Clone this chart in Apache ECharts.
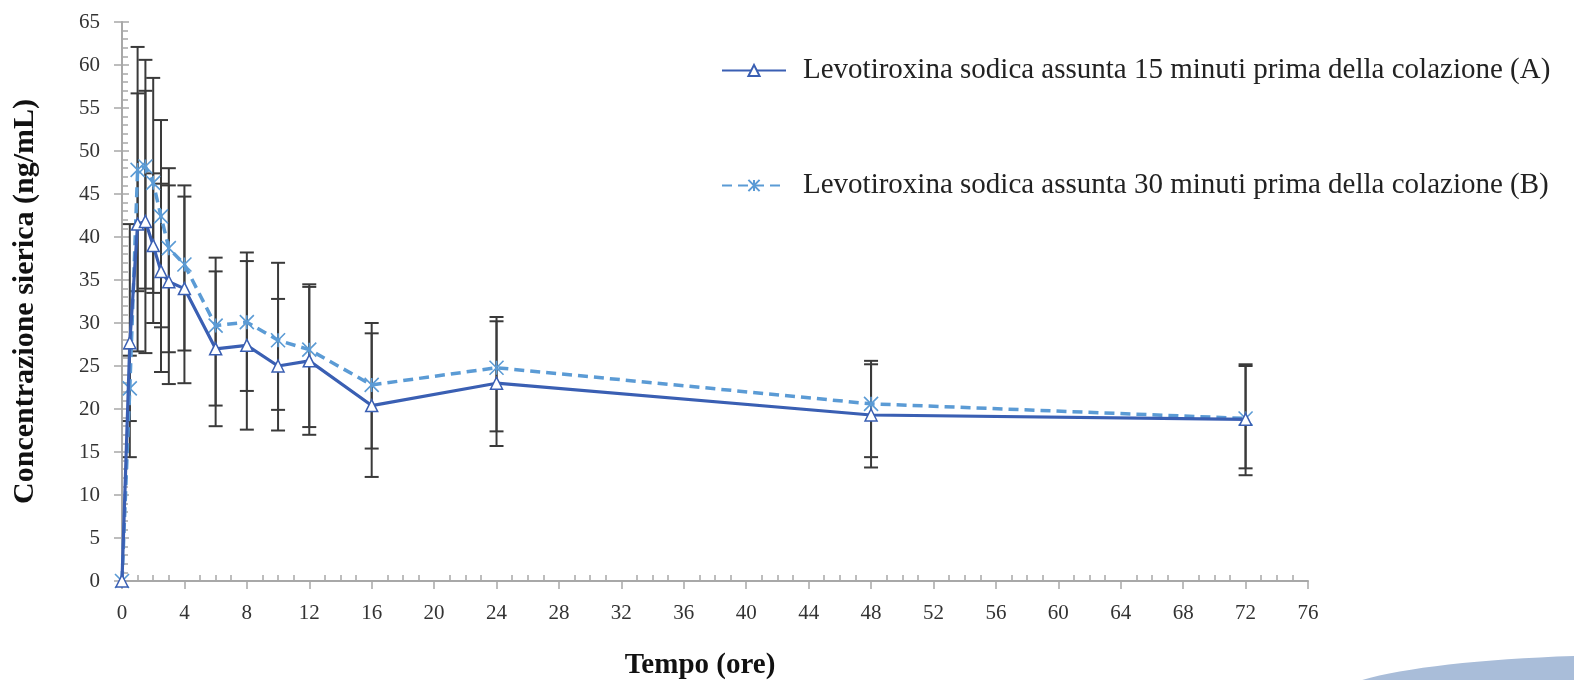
<!DOCTYPE html>
<html>
<head>
<meta charset="utf-8">
<script src="https://cdn.jsdelivr.net/npm/echarts@6/dist/echarts.min.js"></script>
<style>html,body{margin:0;padding:0;background:#fff;}#c{width:1574px;height:680px;}</style>
</head>
<body>
<div id="c"></div>
<script>
const times = [0, 0.5, 1, 1.5, 2, 2.5, 3, 4, 6, 8, 10, 12, 16, 24, 48, 72];
const seriesA = [0, 27.7, 41.5, 41.8, 39.0, 36.0, 34.8, 34.0, 27.0, 27.4, 25.0, 25.6, 20.4, 23.0, 19.3, 18.8];
const seriesB = [0, 22.4, 47.8, 48.2, 46.3, 42.4, 38.7, 36.8, 29.7, 30.1, 28.0, 26.9, 22.8, 24.8, 20.6, 18.9];
const lowA  = [null, 14.4, 26.7, 26.5, 30.0, 24.3, 22.9, 23.0, 18.0, 17.6, 17.5, 17.0, 12.1, 15.7, 13.2, 12.3];
const highA = [null, 41.5, 56.7, 57.0, 47.4, 46.2, 46.0, 44.7, 36.0, 37.2, 32.8, 34.2, 28.8, 30.2, 25.2, 25.2];
const lowB  = [null, 18.6, 33.7, 34.0, 33.5, 29.5, 26.6, 26.8, 20.4, 22.1, 19.9, 17.9, 15.4, 17.4, 14.4, 13.1];
const highB = [null, 26.2, 62.1, 60.6, 58.5, 53.6, 48.0, 46.0, 37.6, 38.2, 37.0, 34.5, 30.0, 30.7, 25.6, 25.0];
const nameA = 'Levotiroxina sodica assunta 15 minuti prima della colazione (A)';
const nameB = 'Levotiroxina sodica assunta 30 minuti prima della colazione (B)';
const xTitle = 'Tempo (ore)';
const yTitle = 'Concentrazione sierica (ng/mL)';

const serif = '"Liberation Serif", "DejaVu Serif", serif';
const axisGray = '#a8a8a8';

function errData(lo, hi) {
  const out = [];
  times.forEach((t, i) => { if (lo[i] != null) out.push([t, lo[i], hi[i]]); });
  return out;
}
function renderErr(params, api) {
  const x = api.value(0), lo = api.value(1), hi = api.value(2);
  const p1 = api.coord([x, lo]), p2 = api.coord([x, hi]);
  const w = 7;
  const st = { stroke: '#3a3a3a', lineWidth: 2 };
  return { type: 'group', children: [
    { type: 'line', shape: { x1: p1[0], y1: p1[1], x2: p2[0], y2: p2[1] }, style: st },
    { type: 'line', shape: { x1: p1[0] - w, y1: p1[1], x2: p1[0] + w, y2: p1[1] }, style: st },
    { type: 'line', shape: { x1: p2[0] - w, y1: p2[1], x2: p2[0] + w, y2: p2[1] }, style: st }
  ]};
}

const chart = echarts.init(document.getElementById('c'), null, { renderer: 'canvas' });
const xBase = { type: 'value', min: 0, max: 76, interval: 4, gridIndex: 0, position: 'bottom' };
const yBase = { type: 'value', min: 0, max: 65, interval: 5, gridIndex: 0, position: 'left' };
chart.setOption({
  animation: false,
  backgroundColor: '#ffffff',
  grid: { left: 122, right: 266, top: 22, bottom: 99, containLabel: false, outerBoundsMode: 'none' },
  legend: {
    data: [nameA, nameB],
    orient: 'vertical',
    left: 716, top: 51,
    itemGap: 86,
    itemWidth: 64, itemHeight: 14,
    textStyle: { fontFamily: serif, fontSize: 29, color: '#222', padding: [0, 0, 0, 12] }
  },
  xAxis: [
    Object.assign({}, xBase, {
      name: xTitle, nameLocation: 'middle', nameGap: 70,
      nameTextStyle: { fontFamily: serif, fontSize: 29, fontWeight: 'bold', color: '#111', padding: [0, 30, 0, 0] },
      axisLine: { show: true, lineStyle: { color: axisGray, width: 2 } },
      axisTick: { show: true, inside: false, length: 8, lineStyle: { color: axisGray, width: 1.5 } },
      axisLabel: { margin: 22, fontFamily: serif, fontSize: 21, color: '#333' },
      splitLine: { show: false }
    }),
    Object.assign({}, xBase, {
      axisLine: { show: false }, axisLabel: { show: false }, splitLine: { show: false },
      axisTick: { show: false, inside: true },
      minorTick: { show: true, splitNumber: 4, length: 6, lineStyle: { color: axisGray, width: 1.5 } }
    })
  ],
  yAxis: [
    Object.assign({}, yBase, {
      name: yTitle, nameLocation: 'middle', nameGap: 82, nameRotate: 90,
      nameTextStyle: { fontFamily: serif, fontSize: 30, fontWeight: 'bold', color: '#111' },
      axisLine: { show: true, lineStyle: { color: axisGray, width: 2 } },
      axisTick: { show: true, inside: false, length: 8, lineStyle: { color: axisGray, width: 1.5 } },
      axisLabel: { margin: 22, fontFamily: serif, fontSize: 21, color: '#333' },
      splitLine: { show: false }
    }),
    Object.assign({}, yBase, {
      axisLine: { show: false }, axisLabel: { show: false }, splitLine: { show: false },
      axisTick: { show: true, inside: true, length: 7, lineStyle: { color: axisGray, width: 1.5 } },
      minorTick: { show: true, splitNumber: 5, length: 6, lineStyle: { color: axisGray, width: 1.5 } }
    })
  ],
  series: [
    {
      type: 'custom', name: 'errA', renderItem: renderErr, data: errData(lowA, highA),
      encode: { x: 0, y: [1, 2] }, z: 1, silent: true
    },
    {
      type: 'custom', name: 'errB', renderItem: renderErr, data: errData(lowB, highB),
      encode: { x: 0, y: [1, 2] }, z: 1, silent: true
    },
    {
      type: 'line', name: nameA, data: times.map((t, i) => [t, seriesA[i]]),
      z: 3,
      lineStyle: { color: '#3a5fb3', width: 3.2, type: 'solid' },
      symbol: 'triangle', symbolSize: 12, showAllSymbol: true,
      itemStyle: { color: '#ffffff', borderColor: '#3a5fb3', borderWidth: 1.5 }
    },
    {
      type: 'line', name: nameB, data: times.map((t, i) => [t, seriesB[i]]),
      z: 2,
      lineStyle: { color: '#5b9bd5', width: 3.5, type: [10, 6] },
      symbol: 'path://M0 0L10 10M10 0L0 10M5 0L5 10', symbolSize: 14, showAllSymbol: true,
      itemStyle: { color: 'transparent', borderColor: '#5b9bd5', borderWidth: 1.6 }
    }
  ],
  graphic: [
    { type: 'ellipse', shape: { cx: 1640, cy: 700, rx: 310, ry: 45 }, style: { fill: '#a9bdd9' }, silent: true, z: -1 }
  ]
});
</script>
</body>
</html>
